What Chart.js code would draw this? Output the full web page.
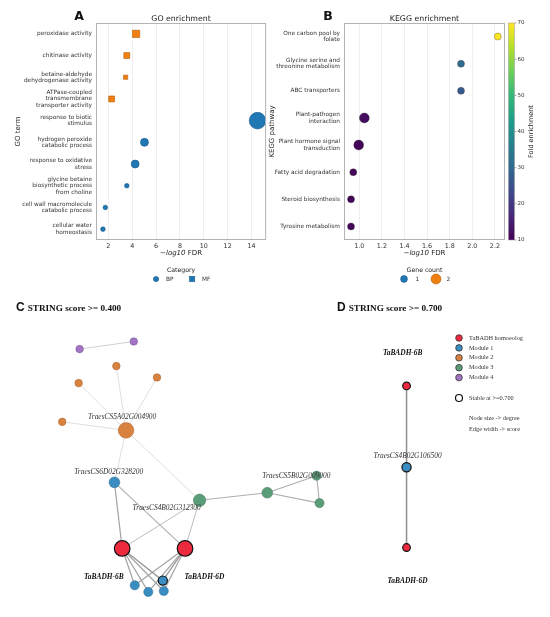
<!DOCTYPE html>
<html><head><meta charset="utf-8">
<script src="https://cdn.jsdelivr.net/npm/chart.js@4.4.1/dist/chart.umd.min.js"></script>
<style>
html,body{margin:0;padding:0;background:#fff;width:550px;height:617px;overflow:hidden;}
canvas{position:absolute;}
</style></head><body>
<canvas id="cA" style="left:0px;top:0px;width:275px;height:290px"></canvas>
<canvas id="cB" style="left:262px;top:0px;width:288px;height:290px"></canvas>
<canvas id="cN" style="left:0px;top:290px;width:550px;height:327px"></canvas>
<script>
// ---------------- DATA ----------------
// Panel A: GO enrichment
const goTerms = [
  ['peroxidase activity'], ['chitinase activity'],
  ['betaine-aldehyde','dehydrogenase activity'],
  ['ATPase-coupled','transmembrane','transporter activity'],
  ['response to biotic','stimulus'],
  ['hydrogen peroxide','catabolic process'],
  ['response to oxidative','stress'],
  ['glycine betaine','biosynthetic process','from choline'],
  ['cell wall macromolecule','catabolic process'],
  ['cellular water','homeostasis']
];
const goCategory = ['MF','MF','MF','MF','BP','BP','BP','BP','BP','BP'];
const goLog10FDR = [4.33, 3.55, 3.45, 2.28, 14.5, 5.03, 4.25, 3.55, 1.75, 1.55];
const goGeneCount = [3, 2, 1, 2, 13, 3, 3, 1, 1, 1];
const goXTicks = [2, 4, 6, 8, 10, 12, 14];

// Panel B: KEGG enrichment
const keggPathways = [
  ['One carbon pool by','folate'],
  ['Glycine serine and','threonine metabolism'],
  ['ABC transporters'],
  ['Plant-pathogen','interaction'],
  ['Plant hormone signal','transduction'],
  ['Fatty acid degradation'],
  ['Steroid biosynthesis'],
  ['Tyrosine metabolism']
];
const keggLog10FDR = [2.225, 1.90, 1.90, 1.045, 0.995, 0.947, 0.927, 0.927];
const keggFold = [70, 31, 27, 12, 10.5, 11, 10.5, 11];
const keggGeneCount = [1, 1, 1, 2, 2, 1, 1, 1];
const keggXTicks = [1.0, 1.2, 1.4, 1.6, 1.8, 2.0, 2.2];
const foldTicks = [10, 20, 30, 40, 50, 60, 70];

// Panels C/D: STRING networks (layout coordinates)
const nodeX = [73,129,111,72,153,55,121,109,197,267,318,321,117,182,130,144,160,159, 411,411,411];
const nodeY = [53,45,71,89,83,130,139,194,213,205,187,216,264,264,303,310,309,298, 92,178,263];
const nodeGroup = ['M4','M4','M2','M2','M2','M2','M2','M1','M3','M3','M3','M3','H','H','M1','M1','M1','M1', 'H','M1','H'];
const nodeStable = [0,0,0,0,0,0,0,0,0,0,0,0,1,1,0,0,0,1, 1,1,1];
const edgeSource = [0,6,6,6,6,6,6,8,9,9,10,7,7,8,8,12,12,12,12,13,13,13,13, 18,19];
const edgeTarget = [1,2,3,4,5,7,8,9,10,11,11,12,13,12,13,14,15,16,17,14,15,16,17, 19,20];
const edgeScore  = [.5,.45,.45,.45,.45,.45,.45,.6,.6,.6,.6,.65,.6,.55,.55,.65,.65,.65,.7,.65,.65,.65,.7, .75,.75];
const labelText = ['TraesCS5A02G004900','TraesCS6D02G328200','TraesCS4B02G312300','TraesCS5B02G009000','TaBADH-6B','TaBADH-6D', 'TaBADH-6B','TraesCS4B02G106500','TaBADH-6D'];
const labelX = [117,103,163,297,98,202, 407,412,412];
const labelY = [125,183,221,187,294,294, 57,166,298];
const groupNames = ['TaBADH homoeolog','Module 1','Module 2','Module 3','Module 4'];
const groupKeys = ['H','M1','M2','M3','M4'];

// ---------------- STYLE ----------------
const SANS = "'DejaVu Sans', sans-serif";
const SERIF = "'Liberation Serif', 'DejaVu Serif', serif";
const BLUE = '#1f77b4', BLUE_E = '#17598a', ORANGE = '#f07f12', ORANGE_E = '#b75f0c';
const GROUP_COL = {H:'#ee2a3f', M1:'#3a8dc1', M2:'#d9813f', M3:'#5c9d79', M4:'#a274c4'};
const GROUP_EDGE = {H:'#a01828', M1:'#2a6a93', M2:'#a8622e', M3:'#44775b', M4:'#7a5595'};
const VIRIDIS = ['#440154','#482878','#3e4989','#31688e','#26828e','#1f9e89','#35b779','#6ece58','#b5de2b','#fde725'];
function hex2rgb(h){return [1,3,5].map(i=>parseInt(h.substr(i,2),16));}
function viridis(t){
  t = Math.max(0, Math.min(1, t));
  const n = VIRIDIS.length - 1, i = Math.min(n - 1, Math.floor(t * n)), f = t * n - i;
  const a = hex2rgb(VIRIDIS[i]), b = hex2rgb(VIRIDIS[i+1]);
  return 'rgb(' + a.map((v,k)=>Math.round(v + (b[k]-v)*f)).join(',') + ')';
}
const FOLD_MIN = foldTicks[0], FOLD_MAX = foldTicks[foldTicks.length-1];

Chart.defaults.animation = false;
Chart.defaults.events = [];
Chart.defaults.font.family = SANS;

function drawMixedXTitle(ctx, cx, cy){
  const parts = [['−', '7px '+SANS], ['log10', 'italic 7px '+SANS], [' FDR', '7px '+SANS]];
  let w = 0; parts.forEach(p=>{ctx.font=p[1]; w+=ctx.measureText(p[0]).width;});
  let x = cx - w/2;
  ctx.textAlign='left'; ctx.textBaseline='middle'; ctx.fillStyle='#222';
  parts.forEach(p=>{ctx.font=p[1]; ctx.fillText(p[0], x, cy); x += ctx.measureText(p[0]).width;});
}
function frameAndTitles(chart, letter, title, yTitle, yTitleX){
  const ctx = chart.ctx, a = chart.chartArea;
  ctx.save();
  ctx.strokeStyle = '#b3b3b3'; ctx.lineWidth = 1;
  ctx.strokeRect(a.left+0.5, a.top+0.5, a.right-a.left-1, a.bottom-a.top-1);
  ctx.fillStyle = '#111'; ctx.textBaseline='middle';
  ctx.font = 'bold 12.5px ' + SANS; ctx.textAlign='center';
  ctx.fillText(letter, a.left - (letter==='A'?17:16), 16.5);
  ctx.font = '7.8px ' + SANS; ctx.fillStyle='#222';
  ctx.fillText(title, (a.left+a.right)/2, 19);
  ctx.save(); ctx.translate(yTitleX, (a.top+a.bottom)/2); ctx.rotate(-Math.PI/2);
  ctx.font = '7px ' + SANS; ctx.fillText(yTitle, 0, 0); ctx.restore();
  drawMixedXTitle(ctx, (a.left+a.right)/2, a.bottom + 13);
  ctx.restore();
}

// ---------------- PANEL A ----------------
const idxBP = [], idxMF = [];
goCategory.forEach((c,i)=> (c==='BP'?idxBP:idxMF).push(i));
new Chart(document.getElementById('cA'), {
  type: 'scatter',
  data: { datasets: [
    { label:'BP', parsing:false, data: idxBP.map(i=>({x:goLog10FDR[i], y:i})), pointStyle:'circle',
      pointRadius: idxBP.map(i=>2.3*Math.sqrt(goGeneCount[i])), backgroundColor: BLUE, borderColor: BLUE_E, borderWidth: 0.6 },
    { label:'MF', parsing:false, data: idxMF.map(i=>({x:goLog10FDR[i], y:i})), pointStyle:'rect',
      pointRadius: idxMF.map(i=>2.1*Math.sqrt(goGeneCount[i])/Math.SQRT1_2), backgroundColor: ORANGE, borderColor: ORANGE_E, borderWidth: 0.6 }
  ]},
  options: {
    responsive:false, maintainAspectRatio:false,
    layout: { padding: { top: 23, right: 8, left: 0, bottom: 0 } },
    plugins: { legend:{display:false}, tooltip:{enabled:false} },
    scales: {
      x: { type:'linear', min:0.97, max:15.22,
        afterBuildTicks: s => { s.ticks = goXTicks.map(v=>({value:v})); },
        afterFit: s => { s.height = 50; },
        ticks: { font:{size:6.4}, color:'#333', padding:3, maxRotation:0, autoSkip:false },
        grid: { color:'#ebebeb', lineWidth:0.8, drawTicks:false }, border:{display:false} },
      y: { type:'category', labels: goTerms, offset:true, min:0, max:goTerms.length-1,
        afterFit: s => { s.width = 96; },
        ticks: { font:{size:5.8, lineHeight:1.12}, color:'#333', padding:4, autoSkip:false },
        grid: { display:false, drawTicks:false }, border:{display:false} }
    }
  },
  plugins: [{ id:'decorA', afterDraw(chart){
    frameAndTitles(chart, 'A', 'GO enrichment', 'GO term', 18);
    const ctx = chart.ctx, a = chart.chartArea, cx = (a.left+a.right)/2, ly = 279;
    ctx.save();
    ctx.fillStyle='#222'; ctx.textAlign='center'; ctx.textBaseline='middle';
    ctx.font = '6.2px '+SANS; ctx.fillText('Category', cx, 270);
    ctx.beginPath(); ctx.arc(cx-25, ly, 2.6, 0, Math.PI*2); ctx.fillStyle=BLUE; ctx.fill();
    ctx.strokeStyle=BLUE_E; ctx.lineWidth=0.6; ctx.stroke();
    ctx.fillStyle=BLUE; ctx.fillRect(cx+8.5, ly-2.6, 5.2, 5.2); ctx.strokeRect(cx+8.5, ly-2.6, 5.2, 5.2);
    ctx.fillStyle='#333'; ctx.textAlign='left'; ctx.font='5.8px '+SANS;
    ctx.fillText('BP', cx-15, ly); ctx.fillText('MF', cx+21, ly);
    ctx.restore();
  }}]
});

// ---------------- PANEL B ----------------
new Chart(document.getElementById('cB'), {
  type: 'scatter',
  data: { datasets: [
    { parsing:false, data: keggLog10FDR.map((v,i)=>({x:v, y:i})),
      pointRadius: keggGeneCount.map(c=>3.5*Math.sqrt(c)),
      backgroundColor: keggFold.map(f=>viridis((f-FOLD_MIN)/(FOLD_MAX-FOLD_MIN))),
      borderColor: 'rgba(50,50,50,0.55)', borderWidth: 0.6 }
  ]},
  options: {
    responsive:false, maintainAspectRatio:false,
    layout: { padding: { top: 23, right: 45, left: 0, bottom: 0 } },
    plugins: { legend:{display:false}, tooltip:{enabled:false} },
    scales: {
      x: { type:'linear', min:0.865, max:2.289,
        afterBuildTicks: s => { s.ticks = keggXTicks.map(v=>({value:v})); },
        afterFit: s => { s.height = 50; },
        ticks: { font:{size:6.4}, color:'#333', padding:3, maxRotation:0, autoSkip:false, callback: v => Number(v).toFixed(1) },
        grid: { color:'#ebebeb', lineWidth:0.8, drawTicks:false }, border:{display:false} },
      y: { type:'category', labels: keggPathways, offset:true, min:0, max:keggPathways.length-1,
        afterFit: s => { s.width = 82; },
        ticks: { font:{size:5.8, lineHeight:1.12}, color:'#333', padding:4, autoSkip:false },
        grid: { display:false, drawTicks:false }, border:{display:false} }
    }
  },
  plugins: [{ id:'decorB', afterDraw(chart){
    frameAndTitles(chart, 'B', 'KEGG enrichment', 'KEGG pathway', 10);
    const ctx = chart.ctx, a = chart.chartArea;
    ctx.save();
    // colorbar
    const bx = a.right + 3.5, bw = 6, top = a.top, bot = a.bottom;
    const g = ctx.createLinearGradient(0, bot, 0, top);
    VIRIDIS.forEach((c,i)=> g.addColorStop(i/(VIRIDIS.length-1), c));
    ctx.fillStyle = g; ctx.fillRect(bx, top, bw, bot-top);
    ctx.strokeStyle='#999'; ctx.lineWidth=0.5; ctx.strokeRect(bx, top, bw, bot-top);
    ctx.fillStyle='#333'; ctx.font='5.5px '+SANS; ctx.textAlign='left'; ctx.textBaseline='middle';
    foldTicks.forEach(v=>{
      const y = bot - (v-FOLD_MIN)/(FOLD_MAX-FOLD_MIN)*(bot-top);
      ctx.beginPath(); ctx.moveTo(bx+bw, y); ctx.lineTo(bx+bw+2, y); ctx.strokeStyle='#555'; ctx.stroke();
      ctx.fillText(String(v), bx+bw+3, y);
    });
    ctx.save(); ctx.translate(bx+bw+17, (top+bot)/2); ctx.rotate(-Math.PI/2);
    ctx.textAlign='center'; ctx.font='6.5px '+SANS; ctx.fillStyle='#222'; ctx.fillText('Fold enrichment', 0, 0); ctx.restore();
    // gene count legend
    const cx = (a.left+a.right)/2, ly = 279;
    ctx.textAlign='center'; ctx.fillStyle='#222'; ctx.font='6.2px '+SANS;
    ctx.fillText('Gene count', cx, 270);
    ctx.beginPath(); ctx.arc(cx-20.5, ly, 3.4, 0, Math.PI*2); ctx.fillStyle=BLUE; ctx.fill(); ctx.strokeStyle=BLUE_E; ctx.lineWidth=0.6; ctx.stroke();
    ctx.beginPath(); ctx.arc(cx+11.5, ly, 5, 0, Math.PI*2); ctx.fillStyle=ORANGE; ctx.fill(); ctx.strokeStyle=ORANGE_E; ctx.stroke();
    ctx.fillStyle='#333'; ctx.font='5.8px '+SANS; ctx.textAlign='left';
    ctx.fillText('1', cx-9, ly); ctx.fillText('2', cx+22, ly);
    ctx.restore();
  }}]
});

// ---------------- PANELS C & D ----------------
const degree = nodeX.map(()=>0);
edgeSource.forEach((s,i)=>{ degree[s]++; degree[edgeTarget[i]]++; });
const edgeDatasets = edgeSource.map((s,i)=>{
  const t = edgeTarget[i], sc = edgeScore[i];
  const gv = Math.round(215 - (sc-0.4)*200);
  return { data:[{x:nodeX[s], y:nodeY[s]}, {x:nodeX[t], y:nodeY[t]}], showLine:true, pointRadius:0,
    borderColor:`rgb(${gv},${gv},${gv})`, borderWidth: 0.5 + (sc-0.4)*3, order: 2 };
});
const nodeDataset = {
  data: nodeX.map((x,i)=>({x, y:nodeY[i]})),
  pointRadius: degree.map(d=>3 + 0.8*d),
  backgroundColor: nodeGroup.map(g=>GROUP_COL[g]),
  borderColor: nodeGroup.map((g,i)=> nodeStable[i] ? '#111' : GROUP_EDGE[g]),
  borderWidth: nodeStable.map(s=> s ? 1.2 : 0.5),
  order: 0
};
new Chart(document.getElementById('cN'), {
  type: 'scatter',
  data: { datasets: [nodeDataset, ...edgeDatasets] },
  options: {
    responsive:false, maintainAspectRatio:false,
    layout:{ padding:0 },
    plugins:{ legend:{display:false}, tooltip:{enabled:false} },
    scales:{ x:{ type:'linear', min:0, max:550, display:false }, y:{ type:'linear', min:0, max:327, reverse:true, display:false } }
  },
  plugins: [{ id:'netDecor', afterDraw(chart){
    const ctx = chart.ctx, xs = chart.scales.x, ys = chart.scales.y;
    ctx.save();
    ctx.textBaseline='middle';
    ctx.textAlign='center';
    labelText.forEach((t,i)=>{
      ctx.font = (t.startsWith('TaBADH') ? 'italic bold 7.4px ' : 'italic 7.4px ') + SERIF;
      ctx.fillStyle = t.startsWith('TaBADH') ? '#111' : '#333';
      ctx.fillText(t, xs.getPixelForValue(labelX[i]), ys.getPixelForValue(labelY[i]));
    });
    ctx.textAlign='left'; ctx.fillStyle='#111';
    [['C','STRING score >= 0.400',16],['D','STRING score >= 0.700',337]].forEach(([L,T,x])=>{
      ctx.font = 'bold 12px ' + "'Liberation Sans', Arial, sans-serif";
      ctx.fillText(L, x, 18);
      const w = ctx.measureText(L).width;
      ctx.font = 'bold 9.2px ' + SERIF;
      ctx.fillText(T, x + w + 3, 18.5);
    });
    const mx = 459, tx = 469;
    ctx.font = '6.3px ' + SERIF;
    groupNames.forEach((n,i)=>{
      const y = 48 + i*9.9;
      ctx.beginPath(); ctx.arc(mx, y, 3.3, 0, Math.PI*2);
      ctx.fillStyle = GROUP_COL[groupKeys[i]]; ctx.fill();
      ctx.strokeStyle = '#333'; ctx.lineWidth = 0.8; ctx.stroke();
      ctx.fillStyle='#333'; ctx.fillText(n, tx, y);
    });
    ctx.beginPath(); ctx.arc(mx, 108, 3.5, 0, Math.PI*2); ctx.fillStyle='#fff'; ctx.fill();
    ctx.strokeStyle='#111'; ctx.lineWidth=1.2; ctx.stroke();
    ctx.fillStyle='#333'; ctx.fillText('Stable at >=0.700', tx, 108);
    ctx.fillText('Node size -> degree', tx, 128);
    ctx.fillText('Edge width -> score', tx, 139);
    ctx.restore();
  }}]
});
</script>
</body></html>
